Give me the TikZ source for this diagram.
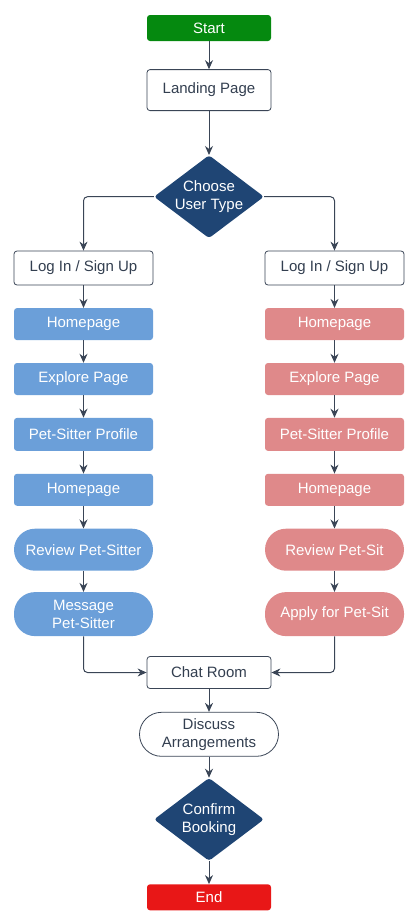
\documentclass[tikz,border=0pt]{standalone}
\usepackage{fontspec}
\setmainfont{Liberation Sans}
\usetikzlibrary{arrows.meta,positioning,shapes.geometric}
\definecolor{startgreen}{HTML}{05890F}
\definecolor{endred}{HTML}{E81717}
\definecolor{choicenavy}{HTML}{1F4574}
\definecolor{sitterblue}{HTML}{6B9FD9}
\definecolor{ownerrose}{HTML}{DF898A}
\definecolor{linegray}{HTML}{3A4556}
\definecolor{textgray}{HTML}{333F50}
\tikzset{
  base/.style={
    rounded corners=3pt,
    align=center,
    inner sep=0pt,
    font=\fontsize{15}{18}\selectfont
  },
  terminal/.style={
    base,
    fill=#1,
    text=white,
    minimum width=124pt,
    minimum height=26pt
  },
  screen/.style={
    base,
    draw=linegray,
    line width=0.8pt,
    fill=white,
    text=textgray,
    minimum width=124pt,
    minimum height=41pt
  },
  pagebox/.style={
    base,
    fill=#1,
    text=white,
    minimum width=139pt,
    minimum height=32pt
  },
  pill/.style={
    base,
    rounded corners=21pt,
    fill=#1,
    text=white,
    minimum width=139pt,
    minimum height=43pt
  },
  choice/.style={
    diamond,
    fill=choicenavy,
    text=white,
    align=center,
    inner sep=-6pt,
    rounded corners=3pt,
    minimum width=110pt,
    minimum height=83pt,
    font=\fontsize{15}{18.5}\selectfont
  },
  arrow/.style={
    -{Stealth[length=9pt,width=8pt]},
    line width=1pt,
    linegray
  }
}

\begin{document}
\begin{tikzpicture}[x=1pt,y=1pt,node distance=22.5pt]
\useasboundingbox (0,0) rectangle (418,-924);
% main column
\node[terminal=startgreen] (start) at (209,-28) {Start};
\node[screen, below=28pt of start] (landing) {Landing Page};
\node[choice, below=44pt of landing] (choose) {Choose\\User Type};

% pet-owner side (left)
\node[screen, minimum width=139pt, minimum height=34pt] (loginL) at (83.5,-268) {Log In / Sign Up};
\node[pagebox=sitterblue, below=of loginL] (homeL) {Homepage};
\node[pagebox=sitterblue, below=of homeL] (exploreL) {Explore Page};
\node[pagebox=sitterblue, below=of exploreL, minimum height=33pt] (profileL) {Pet-Sitter Profile};
\node[pagebox=sitterblue, below=of profileL] (homeL2) {Homepage};
\node[pill=sitterblue, below=of homeL2, minimum height=42pt] (reviewL) {Review Pet-Sitter};
\node[pill=sitterblue, below=21pt of reviewL, minimum height=44pt] (messageL) {Message\\Pet-Sitter};

% pet-sitter side (right)
\node[screen, minimum width=139pt, minimum height=34pt] (loginR) at (334.5,-268) {Log In / Sign Up};
\node[pagebox=ownerrose, below=of loginR] (homeR) {Homepage};
\node[pagebox=ownerrose, below=of homeR] (exploreR) {Explore Page};
\node[pagebox=ownerrose, below=of exploreR, minimum height=33pt] (profileR) {Pet-Sitter Profile};
\node[pagebox=ownerrose, below=of profileR] (homeR2) {Homepage};
\node[pill=ownerrose, below=of homeR2, minimum height=42pt] (reviewR) {Review Pet-Sit};
\node[pill=ownerrose, below=21pt of reviewR, minimum height=44pt] (applyR) {Apply for Pet-Sit};

% joined part
\node[screen, minimum height=32pt] (chat) at (209,-672.5) {Chat Room};
\node[screen, rounded corners=22pt, minimum width=139pt, minimum height=44pt, below=23pt of chat] (discuss) {Discuss\\Arrangements};
\node[choice, below=21pt of discuss] (confirm) {Confirm\\Booking};
\node[terminal=endred, below=23pt of confirm] (end) {End};

% connectors
\draw[arrow] (start) -- (landing);
\draw[arrow] (landing) -- (choose);
\draw[arrow, rounded corners=4pt] (choose.west) -| (loginL.north);
\draw[arrow, rounded corners=4pt] (choose.east) -| (loginR.north);
\foreach \a/\b in {loginL/homeL, homeL/exploreL, exploreL/profileL, profileL/homeL2, homeL2/reviewL, reviewL/messageL,
                   loginR/homeR, homeR/exploreR, exploreR/profileR, profileR/homeR2, homeR2/reviewR, reviewR/applyR}
  \draw[arrow] (\a) -- (\b);
\draw[arrow, rounded corners=4pt] (messageL.south) |- (chat.west);
\draw[arrow, rounded corners=4pt] (applyR.south) |- (chat.east);
\draw[arrow] (chat) -- (discuss);
\draw[arrow] (discuss) -- (confirm);
\draw[arrow] (confirm) -- (end);
\end{tikzpicture}
\end{document}
